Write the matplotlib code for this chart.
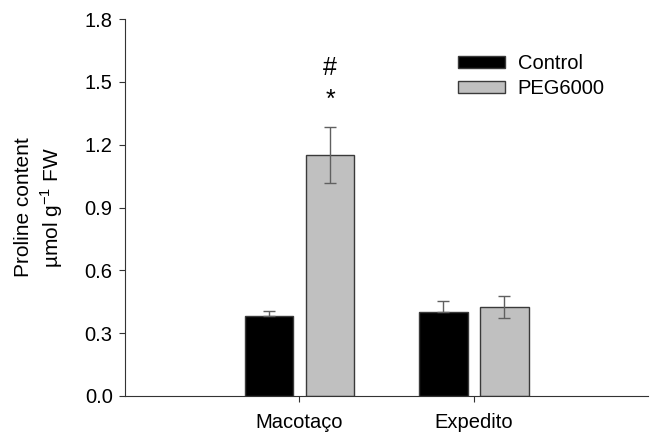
import numpy as np
import matplotlib
matplotlib.use("Agg")
import matplotlib.pyplot as plt

plt.rcParams['font.family'] = ['Liberation Sans', 'DejaVu Sans']

# data
cultivars = ["Macotaço", "Expedito"]
control = [0.382, 0.400]
control_err = [0.025, 0.055]
peg = [1.151, 0.425]
peg_err = [0.133, 0.052]

x = np.arange(1, len(cultivars) + 1)
w = 0.28
off = 0.175
fs = 14.5

fig = plt.figure(figsize=(6.52, 4.33), dpi=100)
ax = fig.add_axes([0.192, 0.0855, 0.802, 0.8705])

ax.bar(x - off, control, w, color="black", edgecolor="#3a3a3a", linewidth=1,
       label="Control", zorder=2)
ax.bar(x + off, peg, w, color="#c0c0c0", edgecolor="#3a3a3a", linewidth=1,
       label="PEG6000", zorder=2)
ax.errorbar(x - off, control, yerr=[np.zeros(len(control)), control_err],
            fmt="none", ecolor="#606060", elinewidth=1, capsize=4, capthick=1, zorder=3)
ax.errorbar(x + off, peg, yerr=peg_err, fmt="none", ecolor="#606060",
            elinewidth=1, capsize=4, capthick=1, zorder=3)

# significance marks
ax.text(x[0] + off, peg[0] + peg_err[0] + 0.28, "#", ha="center", va="center", fontsize=18)
ax.text(x[0] + off, peg[0] + peg_err[0] + 0.13, "*", ha="center", va="center", fontsize=18)

ax.set_xlim(0, 3)
ax.set_ylim(0, 1.8)
yt = np.arange(0, 1.81, 0.3)
ax.set_yticks(yt)
ax.set_yticklabels([f"{v:.1f}" for v in yt])
ax.set_xticks(x)
ax.set_xticklabels(cultivars)
ax.tick_params(labelsize=fs, direction="out", length=4, color="#333333", pad=5)
ax.tick_params(axis="x", pad=8)
for s in ["top", "right"]:
    ax.spines[s].set_visible(False)
for s in ["left", "bottom"]:
    ax.spines[s].set_color("#333333")

ax.set_ylabel("Proline content\nµmol g$^{\\mathregular{-1}}$ FW", fontsize=15,
              labelpad=14, linespacing=1.3)

ax.legend(loc="upper left", bbox_to_anchor=(0.602, 0.955), frameon=False, fontsize=fs,
          handlelength=2.35, handleheight=0.5, handletextpad=0.6, labelspacing=0.3)

fig.savefig("out.png", dpi=100)
